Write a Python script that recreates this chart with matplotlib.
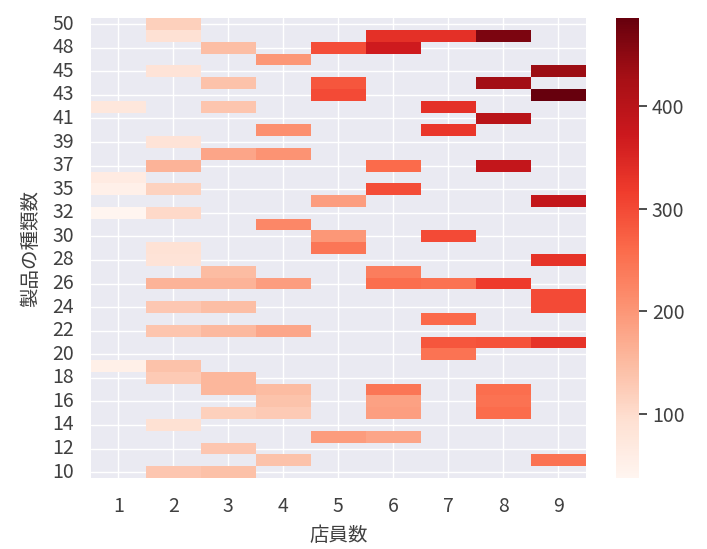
import numpy as np
import pandas as pd
import matplotlib
matplotlib.use("Agg")
import matplotlib.pyplot as plt
import seaborn as sns

# Product-type counts present in the data (y categories) and staff counts (x categories)
product_counts = [50, 49, 48, 46, 45, 44, 43, 42, 41, 40, 39, 38, 37, 36, 35, 33,
                  32, 31, 30, 29, 28, 27, 26, 25, 24, 23, 22, 21, 20, 19, 18, 17,
                  16, 15, 14, 13, 12, 11, 10]
staff_counts = [1, 2, 3, 4, 5, 6, 7, 8, 9]

# Filled cells: (product count, staff count, value)
cell_products = [50, 49, 49, 49, 49,
                 48, 48, 48, 46, 45, 45,
                 44, 44, 44, 43, 43,
                 42, 42, 42, 41, 40, 40, 39,
                 38, 38, 37, 37, 37, 36,
                 35, 35, 35, 33, 33, 32, 32, 31,
                 30, 30, 29, 29, 28, 28, 27, 27,
                 26, 26, 26, 26, 26, 26, 25, 24, 24, 24, 23,
                 22, 22, 22, 21, 21, 21, 20, 19, 19, 18, 18,
                 17, 17, 17, 17, 16, 16, 16, 15, 15, 15, 15,
                 14, 13, 13, 12, 11, 11, 10, 10]
cell_staff = [2, 2, 6, 7, 8,
              3, 5, 6, 4, 2, 9,
              3, 5, 8, 5, 9,
              1, 3, 7, 8, 4, 7, 2,
              3, 4, 2, 6, 8, 1,
              1, 2, 6, 5, 9, 1, 2, 4,
              5, 7, 2, 5, 2, 9, 3, 6,
              2, 3, 4, 6, 7, 8, 9, 2, 3, 9, 7,
              2, 3, 4, 7, 8, 9, 7, 1, 2, 2, 3,
              3, 4, 6, 8, 4, 6, 8, 3, 4, 6, 8,
              2, 5, 6, 3, 4, 9, 2, 3]
cell_values = [118, 90, 335, 335, 465,
               145, 295, 370, 200, 85, 437,
               140, 285, 430, 300, 486,
               75, 135, 335, 400, 210, 325, 85,
               180, 205, 160, 260, 385, 65,
               50, 115, 295, 190, 385, 37, 105, 220,
               200, 300, 88, 245, 85, 330, 148, 235,
               160, 160, 190, 255, 250, 318, 300, 130, 145, 300, 262,
               135, 152, 178, 285, 290, 330, 248, 52, 140, 128, 155,
               155, 148, 245, 255, 138, 185, 250, 118, 128, 188, 258,
               92, 192, 180, 132, 140, 250, 132, 142]

sns.set_theme(style="darkgrid")
plt.rcParams["font.family"] = ["Noto Sans CJK JP", "DejaVu Sans"]

text_color = "#404040"

cells = pd.DataFrame({"product": cell_products, "staff": cell_staff, "value": cell_values})
table = cells.pivot_table(index="product", columns="staff", values="value")
table = table.reindex(index=product_counts, columns=staff_counts)

fig = plt.figure(figsize=(7.07, 5.49), dpi=100)
ax = fig.add_axes([0.1283, 0.1293, 0.7001, 0.8374])
cax = fig.add_axes([0.8713, 0.1293, 0.032, 0.8374])

sns.heatmap(table, cmap="Reds", ax=ax, cbar_ax=cax)

n = len(product_counts)
ax.set_yticks([i + 0.5 for i in range(0, n, 2)])
ax.set_yticklabels([str(product_counts[i]) for i in range(0, n, 2)], rotation=0,
                   fontsize=14, color=text_color)
ax.set_xticks([i + 0.5 for i in range(len(staff_counts))])
ax.set_xticklabels([str(s) for s in staff_counts], rotation=0, fontsize=14, color=text_color)
ax.tick_params(axis="y", pad=6.0)
ax.tick_params(axis="x", pad=7.0)
ax.set_xlabel("店員数", fontsize=14, color=text_color, labelpad=5.5)
ax.set_ylabel("製品の種類数", fontsize=14, color=text_color, labelpad=8)

cax.set_yticks([100, 200, 300, 400])
cax.tick_params(labelsize=14, length=6, width=1.3, colors=text_color)

fig.savefig("out.png", dpi=100)
